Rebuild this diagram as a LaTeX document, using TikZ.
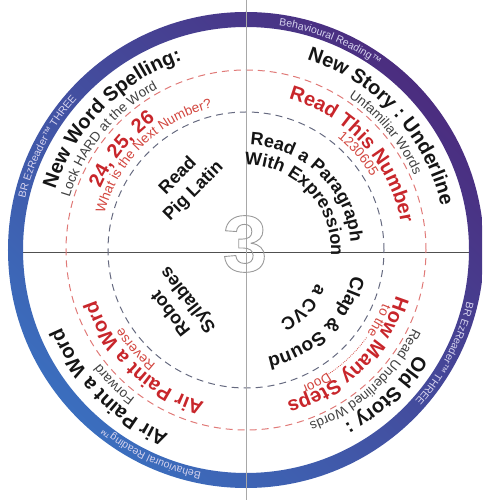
\documentclass[tikz,border=0pt]{standalone}
\usepackage{fontspec}
\setmainfont{Liberation Sans}
\usetikzlibrary{decorations.text}
\definecolor{ringP}{HTML}{4B2D7F}
\definecolor{ringB}{HTML}{3B6EBE}
\definecolor{ringtxt}{HTML}{D6D3EE}
\definecolor{txtblack}{HTML}{151515}
\definecolor{txtgray}{HTML}{404040}
\definecolor{txtred}{HTML}{C8262B}
\definecolor{txtredl}{HTML}{D2463F}
\definecolor{dashred}{HTML}{E07A78}
\definecolor{dashgray}{HTML}{666A80}
\definecolor{axisv}{HTML}{A8A8A8}
\definecolor{axish}{HTML}{505050}
\definecolor{threegray}{HTML}{9A9A9A}
\newcommand\bigF{\fontsize{20}{24}\selectfont\bfseries}
\newcommand\midF{\fontsize{18}{22}\selectfont\bfseries}
\newcommand\clapF{\fontsize{19}{23}\selectfont\bfseries}
\newcommand\smallF{\fontsize{13.5}{16}\selectfont}
\newcommand\ringF{\fontsize{10.5}{12}\selectfont}
% radius, center angle, colour, font, text  (clockwise, tops outward)
\newcommand{\arctext}[5]{%
  \path[decorate, decoration={text along path, text align=center, text color=#3, text={|#4|#5}}]
    ({#2+90}:#1pt) arc[start angle={#2+90}, end angle={#2-90}, radius=#1pt];}
\begin{document}
\begin{tikzpicture}[x=1pt,y=1pt,
  dashring/.style={line width=1pt, dash pattern=on 7pt off 5pt},
  quadtext/.style={align=center, font=\midF, text=txtblack, inner sep=0pt}]
\useasboundingbox (-246,-250) rectangle (236,250);
\clip (-246,-250) rectangle (236,250);
% axes
\draw[axish, line width=0.7pt] (-223,-2) -- (223,-2);
% dashed circles
\draw[dashring, dashred] (0,0) circle[radius=180pt];
\draw[dashring, dashgray] (0,0) circle[radius=138pt];
% ring
\shade[even odd rule, top color=ringP, bottom color=ringB, shading angle=-45]
  (0,0) circle[radius=238pt] (0,0) circle[radius=223pt];
\draw[axisv, line width=0.8pt] (0,250) -- (0,-250);
% centre numeral, outlined
\node[inner sep=0pt] (three) at (-1,6)
  {\color{threegray}\fontsize{80}{80}\selectfont\bfseries\special{pdf:literal direct 1 Tr 0.9 w}3\special{pdf:literal direct 0 Tr}};
% top-left quadrant
\arctext{226.8}{152.5}{ringtxt}{\ringF}{BR EzReader™ THREE}
\arctext{200}{135.5}{txtblack}{\bigF}{New Word Spelling:}
\arctext{184}{141}{txtgray}{\smallF}{Lock HARD at the Word}
\arctext{158}{141}{txtred}{\bigF}{24, 25, 26}
\arctext{146}{134.5}{txtredl}{\smallF}{What is the Next Number?}
\node[quadtext, rotate=45] (piglatin) at (-60,66) {Read\\Pig Latin};
% top-right quadrant
\arctext{226.8}{68}{ringtxt}{\ringF}{Behavioural Reading™}
\arctext{200}{42.5}{txtblack}{\bigF}{New Story : Underline}
\arctext{184}{40}{txtgray}{\smallF}{Unfamiliar Words}
\arctext{157}{42}{txtred}{\bigF}{Read This Number}
\arctext{145}{40.6}{txtredl}{\smallF}{1230605}
\arctext{105}{46}{txtblack}{\midF}{Read a Paragraph}
\arctext{85}{43.5}{txtblack}{\midF}{With Expression}
% bottom-right quadrant
\arctext{226.8}{-27.5}{ringtxt}{\ringF}{BR EzReader™ THREE}
\arctext{200}{-46}{txtblack}{\bigF}{Old Story :}
\arctext{184}{-47.5}{txtgray}{\smallF}{Read Underlined Words}
\arctext{157}{-46}{txtred}{\bigF}{How Many Steps}
\arctext{147}{-28}{txtredl}{\smallF}{to the}
\arctext{147}{-62}{txtredl}{\smallF}{Door}
\draw[txtredl, line width=0.8pt, dash pattern=on 0.8pt off 1.2pt]
  (-36:149pt) arc[start angle=-36, end angle=-57, radius=149pt];
\arctext{109}{-46}{txtblack}{\clapF}{Clap {\&} Sound}
\arctext{78}{-45}{txtblack}{\midF}{a CVC}
% bottom-left quadrant
\arctext{226.8}{245}{ringtxt}{\ringF}{Behavioural Reading™}
\arctext{200}{225}{txtblack}{\bigF}{Air Paint a Word}
\arctext{185}{225.5}{txtgray}{\smallF}{Forward}
\arctext{158}{226.5}{txtred}{\bigF}{Air Paint a Word}
\arctext{146}{222}{txtredl}{\smallF}{Reverse}
\node[quadtext, rotate=128] (robot) at (-66,-56) {Robot\\Syllables};
\end{tikzpicture}
\end{document}
